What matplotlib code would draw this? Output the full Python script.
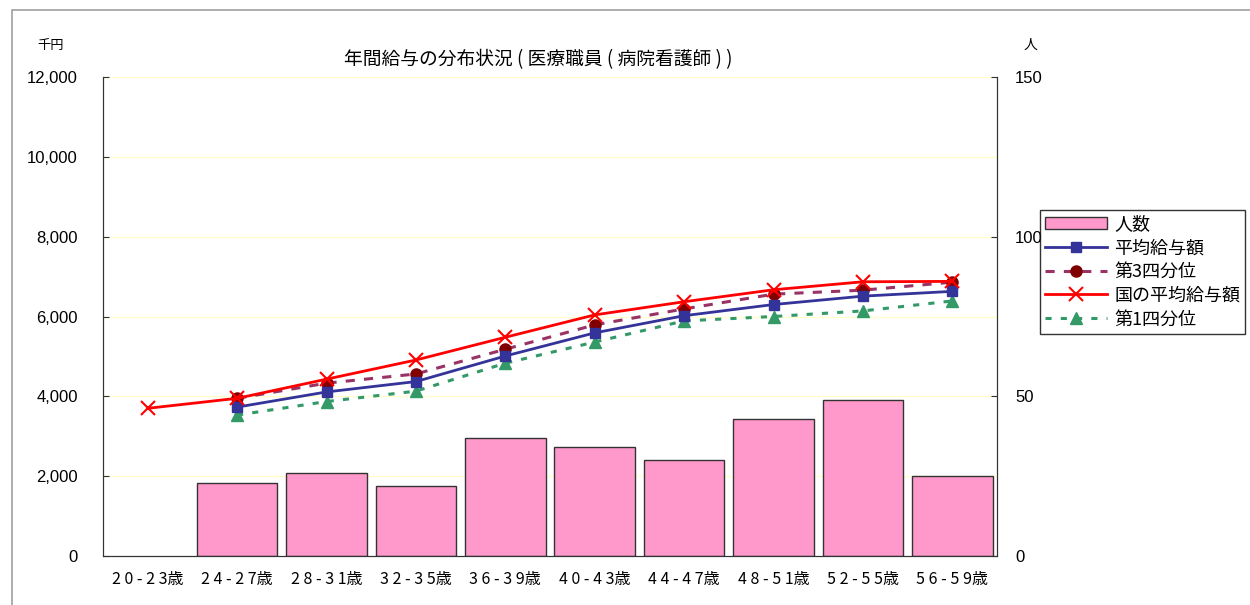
import matplotlib.pyplot as plt
import matplotlib.patches as mpatches
import matplotlib.lines as mlines
import numpy as np

plt.rcParams['font.family'] = ['Noto Sans CJK JP', 'DejaVu Sans']

ages = ['2 0 - 2 3歳', '2 4 - 2 7歳', '2 8 - 3 1歳', '3 2 - 3 5歳', '3 6 - 3 9歳',
        '4 0 - 4 3歳', '4 4 - 4 7歳', '4 8 - 5 1歳', '5 2 - 5 5歳', '5 6 - 5 9歳']
ninzu = [0, 23, 26, 22, 37, 34, 30, 43, 49, 25]
heikin = [np.nan, 3730, 4110, 4370, 5010, 5590, 6020, 6300, 6510, 6630]
q3 = [np.nan, 3950, 4330, 4560, 5180, 5790, 6190, 6560, 6660, 6860]
kuni = [3700, 3950, 4430, 4910, 5480, 6040, 6370, 6670, 6870, 6880]
q1 = [np.nan, 3530, 3870, 4130, 4830, 5360, 5890, 6000, 6140, 6390]

fig = plt.figure(figsize=(12.5, 6.05), dpi=100)
fig.patches.append(mpatches.Rectangle((12 / 1250, -0.1), 1.2, (595 / 605) + 0.1,
                                      transform=fig.transFigure, fill=False,
                                      edgecolor='#a0a0a0', linewidth=1.2))

ax = fig.add_axes([103 / 1250, 0.081, 894 / 1250, 0.7917])
ax2 = ax.twinx()
x = np.arange(len(ages))

# grid lines behind the bars (drawn on the people axis, 2000 yen = 25 people)
for v in range(25, 151, 25):
    ax2.axhline(v, color='#FFFFCC', lw=1, zorder=0)

# bars on right axis (people)
bars = ax2.bar(x, ninzu, width=0.9, color='#FF99CC', edgecolor='#333333', linewidth=1.0, zorder=1)
for b in bars:
    if b.get_height() == 0:
        b.set_visible(False)
ax2.set_ylim(0, 150)
ax2.set_yticks([0, 50, 100, 150])

ax.set_zorder(ax2.get_zorder() + 1)
ax.patch.set_visible(False)

ax.plot(x, kuni, color='#FF0000', lw=2, marker='x', ms=10, mew=1.5, zorder=5)
ax.plot(x, q3, color='#993366', lw=2.2, ls=(0, (3, 3)), marker='o', ms=8,
        mfc='#800000', mec='#800000', zorder=4)
ax.plot(x, heikin, color='#333399', lw=2, marker='s', ms=6.5,
        mfc='#333399', mec='#333399', zorder=4)
ax.plot(x, q1, color='#339966', lw=2.2, ls=(0, (2, 3)), marker='^', ms=8,
        mfc='#339966', mec='#339966', zorder=3)

ax.set_ylim(0, 12000)
ax.set_xlim(-0.5, 9.5)
ax.set_yticks(range(0, 12001, 2000))
ax.set_yticklabels(['{:,}'.format(v) for v in range(0, 12001, 2000)],
                   family='Liberation Sans', fontsize=12)
ax2.set_yticklabels(['0', '50', '100', '150'], family='Liberation Sans', fontsize=12)
ax.set_xticks(x)
ax.set_xticklabels(ages, fontsize=11.5)
ax.tick_params(axis='x', length=0, pad=11)
ax.tick_params(axis='y', direction='in', length=4, pad=18, color='#333333')
ax2.tick_params(axis='y', direction='in', length=4, pad=13, color='#333333')

for a in (ax, ax2):
    a.spines['top'].set_visible(False)
    for s in ('left', 'right', 'bottom'):
        a.spines[s].set_color('#333333')

fig.text(538 / 1250, 1 - 60 / 605, '年間給与の分布状況 ( 医療職員 ( 病院看護師 ) )',
         ha='center', va='center', fontsize=13.5)
fig.text(51 / 1250, 1 - 45 / 605, '千円', ha='center', va='center', fontsize=9.5)
fig.text(1030 / 1250, 1 - 45 / 605, '人', ha='center', va='center', fontsize=10)

handles = [
    mpatches.Patch(facecolor='#FF99CC', edgecolor='#333333', label='人数'),
    mlines.Line2D([], [], color='#333399', lw=2, marker='s', ms=6.5, label='平均給与額'),
    mlines.Line2D([], [], color='#993366', lw=2.2, ls=(0, (3, 3)), marker='o', ms=8,
                  mfc='#800000', mec='#800000', label='第3四分位'),
    mlines.Line2D([], [], color='#FF0000', lw=2, marker='x', ms=10, mew=1.5, label='国の平均給与額'),
    mlines.Line2D([], [], color='#339966', lw=2.2, ls=(0, (2, 3)), marker='^', ms=8,
                  label='第1四分位'),
]
leg = fig.legend(handles=handles, loc='upper left',
                 bbox_to_anchor=(1040 / 1250, 1 - 210 / 605),
                 fontsize=13, frameon=True, fancybox=False, edgecolor='#000000',
                 borderpad=0.3, labelspacing=0.32, handlelength=3.4, handletextpad=0.4,
                 borderaxespad=0)
leg.get_frame().set_linewidth(1.0)

fig.savefig('out.png', dpi=100)
